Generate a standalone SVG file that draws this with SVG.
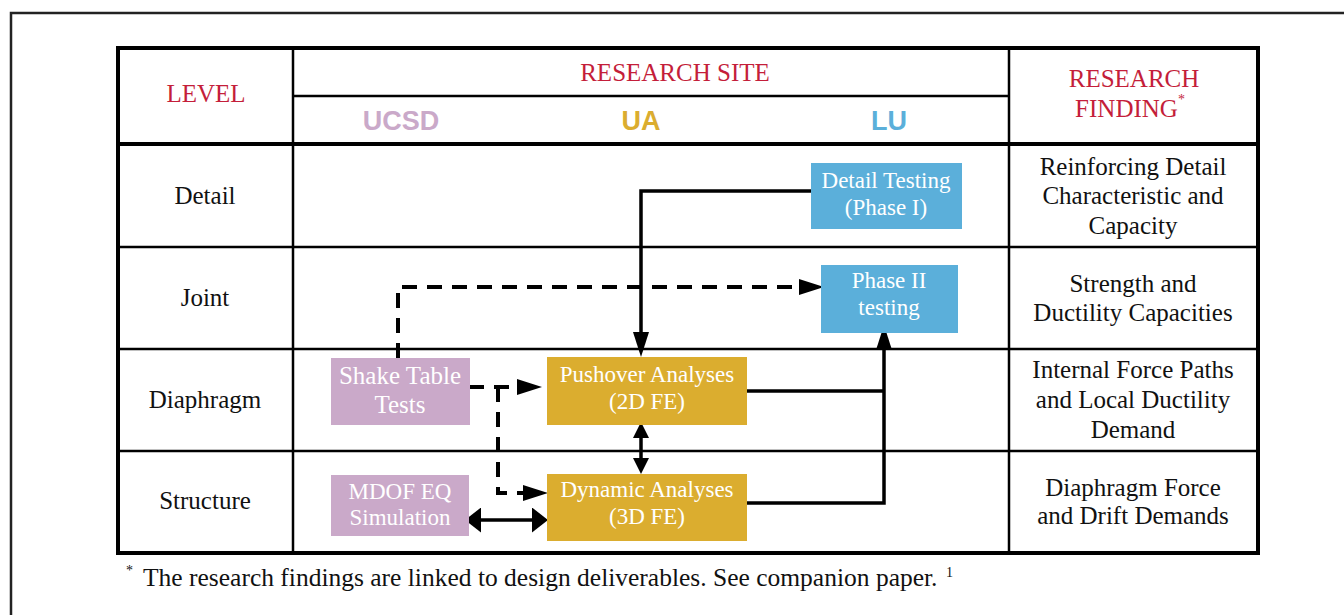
<svg xmlns="http://www.w3.org/2000/svg" width="1344" height="615" viewBox="0 0 1344 615">
  <style>
    .hdr { font-family: "Liberation Serif", serif; font-size: 25px; fill: #C41E3A; text-anchor: middle; }
    .site { font-family: "Liberation Sans", Arial, sans-serif; font-size: 27px; font-weight: bold; text-anchor: middle; }
    .cell { font-family: "Liberation Serif", serif; font-size: 25px; fill: #111; text-anchor: middle; }
    .lbl { font-family: "Liberation Serif", serif; font-size: 23px; fill: #fff; text-anchor: middle; }
    .note { font-family: "Liberation Serif", serif; font-size: 25.5px; fill: #111; }
    .sup { font-family: "Liberation Serif", serif; font-size: 14px; fill: #111; }
    .thick { stroke: #000; stroke-width: 4; fill: none; }
    .thin { stroke: #000; stroke-width: 2.5; fill: none; }
    .solid { stroke: #000; stroke-width: 3.5; fill: none; }
    .dash { stroke: #000; stroke-width: 4; fill: none; stroke-dasharray: 15 10; }
    .ucsd { fill: #CAA9C9; }
    .ua { fill: #DBAD2F; }
    .lu { fill: #5BAFDA; }
  </style>
  <defs>
    <marker id="ah" markerUnits="userSpaceOnUse" markerWidth="25" markerHeight="16" refX="0" refY="8" orient="auto-start-reverse">
      <path d="M0,0 L25,8 L0,16 z" fill="#000"/>
    </marker>
    <marker id="ahS" markerUnits="userSpaceOnUse" markerWidth="16" markerHeight="16" refX="0" refY="8" orient="auto-start-reverse">
      <path d="M0,0 L16,8 L0,16 z" fill="#000"/>
    </marker>
    <marker id="ahW" markerUnits="userSpaceOnUse" markerWidth="16" markerHeight="25" refX="0" refY="12.5" orient="auto-start-reverse">
      <path d="M0,0 L16,12.5 L0,25 z" fill="#000"/>
    </marker>
  </defs>

  <rect width="1344" height="615" fill="#fff"/>
  <!-- page frame -->
  <rect x="11" y="13" width="1400" height="700" fill="none" stroke="#222" stroke-width="2.5"/>

  <!-- table grid -->
  <g id="table">
    <line class="thin" x1="293" y1="47" x2="293" y2="553"/>
    <line class="thin" x1="1009" y1="47" x2="1009" y2="553"/>
    <line class="thin" x1="293" y1="96" x2="1009" y2="96"/>
    <line class="thick" x1="118" y1="144" x2="1258" y2="144"/>
    <line class="thin" x1="118" y1="247" x2="1258" y2="247"/>
    <line class="thin" x1="118" y1="349" x2="1258" y2="349"/>
    <line class="thin" x1="118" y1="451" x2="1258" y2="451"/>
    <rect class="thick" x="118" y="48" width="1140" height="505"/>
  </g>

  <!-- header -->
  <g id="header">
    <text class="hdr" x="206" y="102">LEVEL</text>
    <text class="hdr" x="675" y="81">RESEARCH SITE</text>
    <text class="hdr" x="1134" y="87">RESEARCH</text>
    <text class="hdr" x="1130" y="117">FINDING<tspan font-size="14" dy="-13">*</tspan></text>
    <text class="site ucsd" x="401" y="130">UCSD</text>
    <text class="site ua" x="641" y="130">UA</text>
    <text class="site lu" x="889" y="130">LU</text>
  </g>

  <!-- row labels -->
  <g id="levels">
    <text class="cell" x="205" y="204">Detail</text>
    <text class="cell" x="205" y="306">Joint</text>
    <text class="cell" x="205" y="408">Diaphragm</text>
    <text class="cell" x="205" y="509">Structure</text>
  </g>

  <!-- findings column -->
  <g id="findings">
    <text class="cell" x="1133" y="175">Reinforcing Detail</text>
    <text class="cell" x="1133" y="204">Characteristic and</text>
    <text class="cell" x="1133" y="234">Capacity</text>
    <text class="cell" x="1133" y="292">Strength and</text>
    <text class="cell" x="1133" y="321">Ductility Capacities</text>
    <text class="cell" x="1133" y="378">Internal Force Paths</text>
    <text class="cell" x="1133" y="408">and Local Ductility</text>
    <text class="cell" x="1133" y="438">Demand</text>
    <text class="cell" x="1133" y="496">Diaphragm Force</text>
    <text class="cell" x="1133" y="524">and Drift Demands</text>
  </g>

  <!-- connectors -->
  <g id="connectors">
    <path class="solid" d="M811,191 H641 V332" marker-end="url(#ah)"/>
    <path class="dash" d="M398,358 V287 H799" marker-end="url(#ah)"/>
    <path class="dash" d="M469,387 H517" marker-end="url(#ah)"/>
    <path class="dash" d="M498,387 V493 H523" marker-end="url(#ah)"/>
    <path class="solid" d="M641,438 V458" marker-start="url(#ahS)" marker-end="url(#ahS)"/>
    <path class="solid" d="M481,520 H532" marker-start="url(#ahW)" marker-end="url(#ahW)"/>
    <path class="solid" d="M747,391 H884"/>
    <path class="solid" d="M747,503 H884 V350" marker-end="url(#ah)"/>
  </g>

  <!-- nodes -->
  <g id="detail-testing">
    <rect class="lu" x="811" y="163" width="151" height="66"/>
    <text class="lbl" x="886" y="188">Detail Testing</text>
    <text class="lbl" x="886" y="215">(Phase I)</text>
  </g>
  <g id="phase-2-testing">
    <rect class="lu" x="821" y="265" width="137" height="68"/>
    <text class="lbl" x="889" y="288">Phase II</text>
    <text class="lbl" x="889" y="315">testing</text>
  </g>
  <g id="shake-table">
    <rect class="ucsd" x="331" y="358" width="139" height="67"/>
    <text class="lbl" x="400" y="384" style="font-size:25px">Shake Table</text>
    <text class="lbl" x="400" y="413" style="font-size:25px">Tests</text>
  </g>
  <g id="mdof-sim">
    <rect class="ucsd" x="331" y="475" width="138" height="61"/>
    <text class="lbl" x="400" y="499">MDOF EQ</text>
    <text class="lbl" x="400" y="525">Simulation</text>
  </g>
  <g id="pushover">
    <rect class="ua" x="547" y="357" width="200" height="68"/>
    <text class="lbl" x="647" y="382">Pushover Analyses</text>
    <text class="lbl" x="647" y="409">(2D FE)</text>
  </g>
  <g id="dynamic">
    <rect class="ua" x="547" y="474" width="200" height="67"/>
    <text class="lbl" x="647" y="497">Dynamic Analyses</text>
    <text class="lbl" x="647" y="524">(3D FE)</text>
  </g>

  <!-- footnote -->
  <g id="footnote">
    <text class="sup" x="126" y="575">*</text>
    <text class="note" x="143" y="586">The research findings are linked to design deliverables. See companion paper.</text>
    <text class="sup" x="946" y="577">1</text>
  </g>
</svg>
